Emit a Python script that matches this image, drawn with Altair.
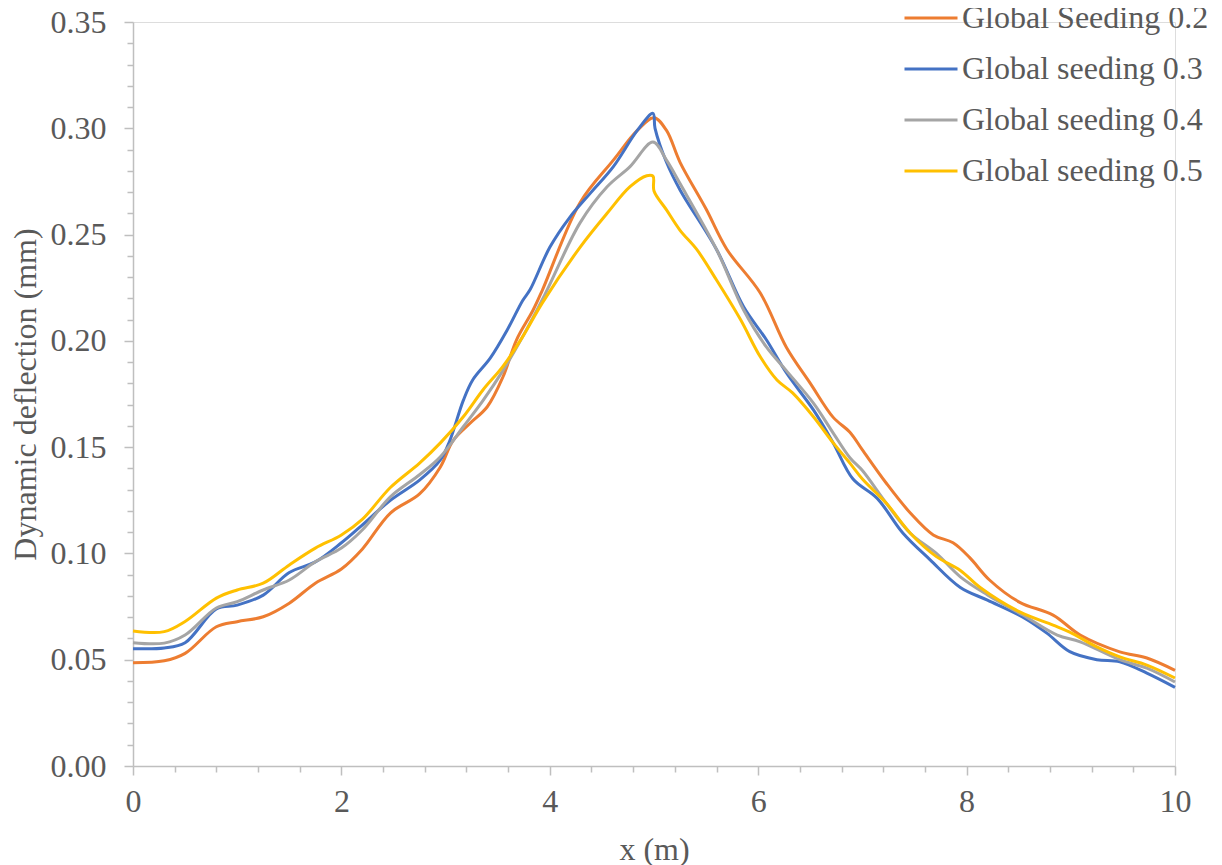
import altair as alt
import pandas as pd

series_names = ["Global Seeding 0.2", "Global seeding 0.3", "Global seeding 0.4", "Global seeding 0.5"]
colors = ["#ED7D31", "#4472C4", "#A5A5A5", "#FFC000"]

x_02 = [0, 0.3, 0.5, 0.8, 1.0, 1.25, 1.5, 1.75, 2.0, 2.2, 2.47, 2.75, 2.95, 3.07, 3.23, 3.4, 3.55, 3.68,
        3.84, 3.93, 4.29, 4.61, 4.84, 5.0, 5.12, 5.25, 5.5, 5.7, 6.02, 6.27, 6.5, 6.72, 6.88, 7.0, 7.23,
        7.46, 7.68, 7.87, 8.03, 8.22, 8.51, 8.83, 9.09, 9.47, 9.73, 10]
y_02 = [0.0486, 0.0495, 0.053, 0.0655, 0.0679, 0.0702, 0.0766, 0.086, 0.0927, 0.102, 0.119, 0.128, 0.1407,
        0.153, 0.161, 0.169, 0.183, 0.2004, 0.2145, 0.224, 0.265, 0.285, 0.299, 0.305, 0.299, 0.284, 0.262,
        0.243, 0.2225, 0.197, 0.180, 0.164, 0.157, 0.1487, 0.133, 0.119, 0.1087, 0.105, 0.098, 0.0875,
        0.077, 0.071, 0.0616, 0.0537, 0.0508, 0.045]

x_03 = [0, 0.3, 0.5, 0.8, 1.0, 1.25, 1.5, 1.75, 2.0, 2.18, 2.47, 2.75, 2.95, 3.04, 3.17, 3.26, 3.43, 3.59,
        3.74, 3.81, 4.0, 4.19, 4.39, 4.61, 4.84, 4.99, 5.01, 5.12, 5.25, 5.6, 5.86, 6.08, 6.27, 6.53, 6.72,
        6.91, 7.14, 7.39, 7.65, 7.94, 8.2, 8.54, 8.77, 8.99, 9.25, 9.47, 9.73, 10]
y_03 = [0.0552, 0.0555, 0.058, 0.0739, 0.0757, 0.0804, 0.091, 0.096, 0.105, 0.1125, 0.125, 0.1345, 0.144,
        0.153, 0.172, 0.1816, 0.192, 0.205, 0.219, 0.224, 0.244, 0.258, 0.2695, 0.282, 0.299, 0.307, 0.300,
        0.284, 0.271, 0.243, 0.216, 0.2004, 0.185, 0.1675, 0.152, 0.135, 0.126, 0.1095, 0.097, 0.084, 0.078,
        0.070, 0.0625, 0.0538, 0.050, 0.049, 0.0437, 0.037]

x_04 = [0, 0.3, 0.5, 0.8, 1.0, 1.25, 1.5, 1.75, 2.0, 2.2, 2.47, 2.75, 2.95, 3.17, 3.36, 3.55, 3.74, 3.95,
        4.29, 4.55, 4.77, 4.99, 5.12, 5.25, 5.6, 5.86, 6.08, 6.27, 6.53, 6.72, 6.88, 7.0, 7.23, 7.46, 7.71,
        7.94, 8.2, 8.54, 8.87, 9.09, 9.47, 9.73, 10]
y_04 = [0.058, 0.0578, 0.0616, 0.0743, 0.0773, 0.0828, 0.0875, 0.0961, 0.1025, 0.111, 0.1266, 0.137, 0.1455,
        0.1596, 0.172, 0.186, 0.202, 0.2215, 0.2555, 0.2725, 0.282, 0.2935, 0.285, 0.274, 0.243, 0.2145,
        0.197, 0.186, 0.1707, 0.1566, 0.145, 0.139, 0.1236, 0.1095, 0.100, 0.089, 0.0805, 0.071, 0.0616,
        0.0584, 0.050, 0.046, 0.0395]

x_05 = [0, 0.3, 0.5, 0.8, 1.0, 1.25, 1.5, 1.75, 2.0, 2.2, 2.47, 2.75, 2.95, 3.17, 3.36, 3.55, 3.74, 3.93,
        4.29, 4.55, 4.77, 4.93, 4.99, 5.0, 5.12, 5.25, 5.41, 5.6, 5.83, 6.02, 6.18, 6.33, 6.53, 6.72, 6.88,
        7.0, 7.23, 7.46, 7.71, 7.94, 8.13, 8.51, 8.83, 8.99, 9.25, 9.47, 9.73, 10]
y_05 = [0.0635, 0.0632, 0.068, 0.079, 0.0828, 0.086, 0.0946, 0.1025, 0.1087, 0.116, 0.131, 0.1425, 0.152,
        0.1643, 0.177, 0.188, 0.202, 0.218, 0.244, 0.260, 0.2725, 0.2777, 0.2775, 0.2705, 0.2616, 0.252,
        0.243, 0.2286, 0.21, 0.1925, 0.1816, 0.1755, 0.1643, 0.152, 0.1425, 0.135, 0.1236, 0.1095, 0.0985,
        0.092, 0.084, 0.0725, 0.0663, 0.063, 0.056, 0.0513, 0.0475, 0.0414]

x_tick_values = [round(i * 0.4, 1) for i in range(26)]
y_tick_values = [round(i * 0.01, 2) for i in range(36)]

frames = []
for name, xs, ys in zip(series_names, [x_02, x_03, x_04, x_05], [y_02, y_03, y_04, y_05]):
    frames.append(pd.DataFrame({"x": xs, "y": ys, "series": name}))
df = pd.concat(frames, ignore_index=True)

FONT = "Liberation Serif"
TXT = "#595959"
AX = "#BFBFBF"
FS = 32

x_axis = alt.Axis(
    values=x_tick_values,
    labelExpr="round(datum.value*10) % 20 == 0 ? format(datum.value, 'd') : ''",
    tickSize={"condition": {"test": "round(datum.value*10) % 20 == 0", "value": 9}, "value": 6},
    grid=False, domainColor=AX, domainWidth=1.5, tickColor=AX, tickWidth=1.5,
    labelFont=FONT, labelFontSize=FS, labelColor=TXT, labelPadding=11, labelFlush=False,
    title="x (m)", titleFont=FONT, titleFontSize=FS, titleColor=TXT, titleFontWeight="normal",
    titleX=521, titleY=83, titleBaseline="middle", titleAlign="center",
)
y_axis = alt.Axis(
    values=y_tick_values,
    labelExpr="round(datum.value*100) % 5 == 0 ? format(datum.value, '.2f') : ''",
    tickSize={"condition": {"test": "round(datum.value*100) % 5 == 0", "value": 9}, "value": 6},
    grid=False, domainColor=AX, domainWidth=1.5, tickColor=AX, tickWidth=1.5,
    labelFont=FONT, labelFontSize=FS, labelColor=TXT, labelPadding=18, labelFlush=False,
    title="Dynamic deflection (mm)", titleFont=FONT, titleFontSize=FS, titleColor=TXT,
    titleFontWeight="normal", titleAngle=270, titleX=-108, titleY=372,
    titleBaseline="middle", titleAlign="center",
)

chart = (
    alt.Chart(df)
    .mark_line(interpolate="catmull-rom", strokeWidth=3)
    .encode(
        x=alt.X("x:Q", scale=alt.Scale(domain=[0, 10], nice=False, zero=False), axis=x_axis),
        y=alt.Y("y:Q", scale=alt.Scale(domain=[0, 0.35], nice=False), axis=y_axis),
        color=alt.Color(
            "series:N",
            scale=alt.Scale(domain=series_names, range=colors),
            sort=series_names,
            legend=alt.Legend(
                title=None, orient="none", legendX=770, legendY=-32, padding=0,
                symbolType="stroke", symbolSize=2809, symbolStrokeWidth=3,
                labelFont=FONT, labelFontSize=FS, labelColor=TXT, labelOffset=3,
                rowPadding=7, labelLimit=400,
            ),
        ),
    )
    .properties(
        width=1042, height=744,
        autosize=alt.AutoSizeParams(type="none"),
        padding={"left": 125, "top": 14, "right": 38, "bottom": 100},
    )
    .configure_view(stroke=None)
    .configure(background="white")
)

chart.save("out.html", embed_options={"renderer": "svg", "actions": False})
